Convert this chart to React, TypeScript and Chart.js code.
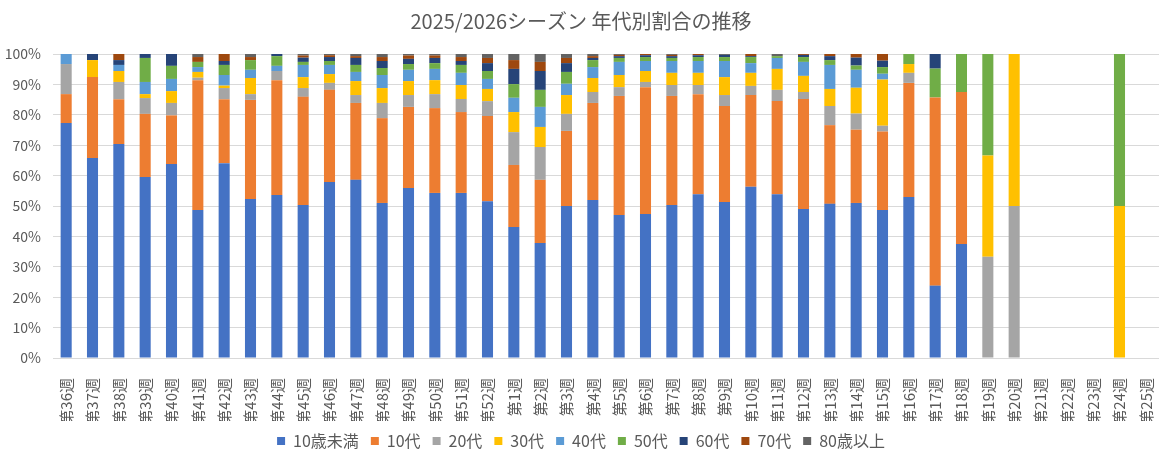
import React, { useEffect, useRef } from "react";
import { Chart, registerables } from "chart.js";

Chart.register(...registerables);

const weeks = [
  "第36週", "第37週", "第38週", "第39週", "第40週", "第41週", "第42週", "第43週", "第44週",
  "第45週", "第46週", "第47週", "第48週", "第49週", "第50週", "第51週", "第52週",
  "第1週", "第2週", "第3週", "第4週", "第5週", "第6週", "第7週", "第8週", "第9週", "第10週",
  "第11週", "第12週", "第13週", "第14週", "第15週", "第16週", "第17週", "第18週", "第19週",
  "第20週", "第21週", "第22週", "第23週", "第24週", "第25週",
];

const under10 = [77.3, 65.8, 70.4, 59.5, 63.8, 48.7, 64.1, 52.3, 53.6, 50.3, 57.9, 58.6, 51.0, 55.9, 54.3, 54.3, 51.6,
  43.1, 37.8, 50.0, 52.0, 47.0, 47.4, 50.3, 53.9, 51.3, 56.3, 53.9, 49.0, 50.7, 51.0, 48.7, 53.0, 23.8, 37.5, 0, 0, 0, 0, 0, 0, 0];
const age10s = [9.5, 26.6, 14.7, 20.8, 16.0, 42.7, 21.0, 32.6, 37.8, 35.6, 30.3, 25.3, 27.9, 26.7, 27.9, 26.6, 28.0,
  20.4, 20.8, 24.7, 31.9, 39.2, 41.7, 35.9, 32.9, 31.6, 30.2, 30.6, 36.2, 25.9, 24.1, 25.8, 37.5, 61.9, 50.0, 0, 0, 0, 0, 0, 0, 0];
const age20s = [9.9, 0, 5.7, 5.2, 4.1, 0.8, 3.7, 1.9, 3.0, 2.9, 2.3, 2.6, 5.0, 3.9, 4.6, 4.3, 4.9,
  10.8, 10.8, 5.6, 3.6, 2.9, 1.7, 3.6, 3.0, 3.6, 3.0, 3.7, 2.3, 6.3, 5.3, 1.9, 3.3, 0, 0, 33.3, 50, 0, 0, 0, 0, 0];
const age30s = [0, 5.6, 3.6, 1.3, 3.9, 1.9, 0.8, 5.3, 0, 3.6, 2.9, 4.6, 4.9, 4.6, 4.6, 4.6, 4.0,
  6.6, 6.6, 6.2, 4.6, 4.0, 3.6, 4.0, 4.0, 5.9, 4.3, 6.9, 5.3, 5.6, 8.5, 15.2, 2.9, 0, 0, 33.3, 50, 0, 0, 0, 50, 0];
const age40s = [3.3, 0, 2.0, 4.0, 4.0, 1.6, 3.5, 2.7, 1.7, 4.0, 3.0, 3.0, 4.3, 3.7, 3.7, 4.0, 3.3,
  4.7, 6.6, 3.7, 3.6, 4.3, 3.3, 3.9, 3.9, 5.3, 3.2, 3.6, 4.6, 7.9, 5.9, 1.9, 0, 0, 0, 0, 0, 0, 0, 0, 0, 0];
const age50s = [0, 0, 0, 7.9, 4.3, 1.7, 3.3, 3.2, 3.2, 1.0, 1.3, 2.3, 2.3, 1.9, 1.9, 2.6, 2.6,
  4.5, 5.6, 3.9, 2.3, 1.3, 1.3, 1.0, 1.3, 1.3, 2.0, 0.6, 1.6, 1.6, 1.4, 2.2, 3.3, 9.5, 12.5, 33.4, 0, 0, 0, 0, 50, 0];
const age60s = [0, 2.0, 1.6, 1.3, 3.9, 0, 1.3, 0, 0.7, 1.4, 1.3, 2.3, 2.3, 1.7, 1.7, 1.3, 2.6,
  5.0, 6.2, 2.9, 0.7, 0.6, 0.6, 0.6, 0.6, 0.7, 0.3, 0, 0.7, 1.3, 2.6, 2.1, 0, 4.8, 0, 0, 0, 0, 0, 0, 0, 0];
const age70s = [0, 0, 2.0, 0, 0, 1.6, 2.3, 1.0, 0, 0.7, 0.6, 0.6, 1.3, 1.1, 0.8, 1.3, 1.7,
  2.9, 3.0, 1.7, 0.6, 0.4, 0.4, 0.4, 0.4, 0, 0.7, 0, 0.3, 0.7, 1.2, 2.2, 0, 0, 0, 0, 0, 0, 0, 0, 0, 0];
const age80plus = [0, 0, 0, 0, 0, 1.0, 0, 1.0, 0, 0.5, 0.4, 0.7, 1.0, 0.5, 0.5, 1.0, 1.3,
  2.0, 2.6, 1.3, 0.7, 0.3, 0, 0.3, 0, 0.3, 0, 0.7, 0, 0, 0, 0, 0, 0, 0, 0, 0, 0, 0, 0, 0, 0];

const seriesNames = ["10歳未満", "10代", "20代", "30代", "40代", "50代", "60代", "70代", "80歳以上"];
const seriesValues = [under10, age10s, age20s, age30s, age40s, age50s, age60s, age70s, age80plus];
const seriesColors = ["#4472C4", "#ED7D31", "#A5A5A5", "#FFC000", "#5B9BD5", "#70AD47", "#264478", "#9E480E", "#636363"];

const yTicks = [0, 10, 20, 30, 40, 50, 60, 70, 80, 90, 100];

const FONT = "'Noto Sans CJK JP', 'Noto Sans', sans-serif";
const TEXT = "#595959";

export default function App() {
  const ref = useRef<HTMLCanvasElement>(null);

  useEffect(() => {
    const totals = weeks.map((_, i) => seriesValues.reduce((s, arr) => s + arr[i], 0));
    const chart = new Chart(ref.current!, {
      type: "bar",
      data: {
        labels: weeks,
        datasets: seriesNames.map((name, k) => ({
          label: name,
          data: seriesValues[k].map((v, i) => (totals[i] ? (v / totals[i]) * 100 : 0)),
          backgroundColor: seriesColors[k],
          borderWidth: 0,
          barPercentage: 0.42,
          categoryPercentage: 1,
        })),
      },
      options: {
        animation: false,
        responsive: false,
        devicePixelRatio: 1,
        layout: { padding: { left: 0, right: 14, top: 0, bottom: 10 } },
        plugins: {
          title: {
            display: true,
            text: "2025/2026シーズン 年代別割合の推移",
            color: TEXT,
            font: { family: FONT, size: 20, weight: "normal" },
            padding: { top: 9, bottom: 21 },
          },
          legend: {
            position: "bottom",
            labels: {
              boxWidth: 8,
              boxHeight: 8,
              color: TEXT,
              font: { family: FONT, size: 16 },
              padding: 12,
            },
          },
          tooltip: { enabled: false },
        },
        scales: {
          x: {
            stacked: true,
            grid: { display: false },
            border: { display: false },
            ticks: {
              color: TEXT,
              font: { family: FONT, size: 15 },
              maxRotation: 90,
              minRotation: 90,
              autoSkip: false,
              padding: 12,
            },
            afterFit: (s: any) => {
              s.height = 63;
            },
          },
          y: {
            stacked: true,
            min: 0,
            max: 100,
            afterBuildTicks: (s: any) => {
              s.ticks = yTicks.map((v) => ({ value: v }));
            },
            ticks: {
              color: TEXT,
              font: { family: FONT, size: 14 },
              padding: 12,
              callback: (v: any) => v + "%",
            },
            grid: { color: "#D9D9D9", drawTicks: false, lineWidth: 1 },
            border: { display: false },
            afterFit: (s: any) => {
              s.width = 53;
            },
          },
        },
      },
    });
    return () => chart.destroy();
  }, []);

  return (
    <div style={{ position: "absolute", left: 0, top: 0, width: 1176, height: 469, background: "#fff" }}>
      <canvas ref={ref} width={1176} height={469} style={{ display: "block" }} />
    </div>
  );
}
